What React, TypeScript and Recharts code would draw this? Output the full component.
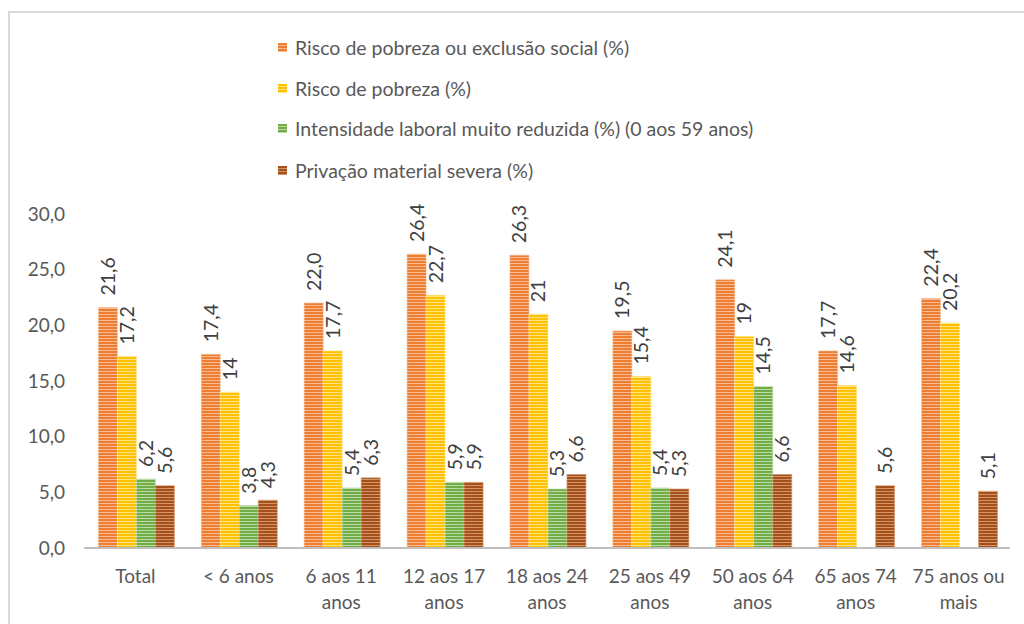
import React from 'react';
import { BarChart, Bar, XAxis, YAxis, LabelList } from 'recharts';

const categories = [
  'Total',
  '< 6 anos',
  '6 aos 11 anos',
  '12 aos 17 anos',
  '18 aos 24 anos',
  '25 aos 49 anos',
  '50 aos 64 anos',
  '65 aos 74 anos',
  '75 anos ou mais',
];

const tickLines: string[][] = [
  ['Total'],
  ['< 6 anos'],
  ['6 aos 11', 'anos'],
  ['12 aos 17', 'anos'],
  ['18 aos 24', 'anos'],
  ['25 aos 49', 'anos'],
  ['50 aos 64', 'anos'],
  ['65 aos 74', 'anos'],
  ['75 anos ou', 'mais'],
];

const seriesNames = [
  'Risco de pobreza ou exclusão social (%)',
  'Risco de pobreza (%)',
  'Intensidade laboral muito reduzida (%) (0 aos 59 anos)',
  'Privação material severa (%)',
];

const riscoExclusao = [21.6, 17.4, 22.0, 26.4, 26.3, 19.5, 24.1, 17.7, 22.4];
const riscoPobreza = [17.2, 14, 17.7, 22.7, 21, 15.4, 19, 14.6, 20.2];
const intensidade: (number | null)[] = [6.2, 3.8, 5.4, 5.9, 5.3, 5.4, 14.5, null, null];
const privacao = [5.6, 4.3, 6.3, 5.9, 6.6, 5.3, 6.6, 5.6, 5.1];

const riscoExclusaoLabels = ['21,6', '17,4', '22,0', '26,4', '26,3', '19,5', '24,1', '17,7', '22,4'];
const riscoPobrezaLabels = ['17,2', '14', '17,7', '22,7', '21', '15,4', '19', '14,6', '20,2'];
const intensidadeLabels = ['6,2', '3,8', '5,4', '5,9', '5,3', '5,4', '14,5', '', ''];
const privacaoLabels = ['5,6', '4,3', '6,3', '5,9', '6,6', '5,3', '6,6', '5,6', '5,1'];

const yTicks = [0, 5, 10, 15, 20, 25, 30];

const seriesColors = ['#ED7D31', '#FFC000', '#70AD47', '#A5501A'];
const seriesLight = ['#F7BC95', '#FFE283', '#BCDAA6', '#D3956A'];

const data = categories.map((c, i) => ({
  name: c,
  s0: riscoExclusao[i],
  s1: riscoPobreza[i],
  s2: intensidade[i],
  s3: privacao[i],
}));

const labelSets = [riscoExclusaoLabels, riscoPobrezaLabels, intensidadeLabels, privacaoLabels];

const FONT = 'Lato, "Open Sans", sans-serif';
const TEXT = '#595959';

const makeLabel = (labels: string[]) => (props: any) => {
  const { x, y, width, index, value } = props;
  if (value === null || value === undefined) return null;
  const txt = labels[index];
  if (!txt) return null;
  const cx = Number(x) + Number(width) / 2;
  const ty = Number(y) - 12;
  return (
    <text
      x={cx}
      y={ty}
      transform={`rotate(-90, ${cx}, ${ty})`}
      textAnchor="start"
      dy="0.36em"
      fill="#404040"
      fontSize={19.5}
      fontFamily={FONT}
    >
      {txt}
    </text>
  );
};

const XTick = (props: any) => {
  const { x, y, index } = props;
  const lines = tickLines[index] || [];
  return (
    <g>
      {lines.map((l, k) => (
        <text
          key={k}
          x={x}
          y={Number(y) + 35 + k * 26}
          textAnchor="middle"
          fill={TEXT}
          fontSize={19}
          fontFamily={FONT}
        >
          {l}
        </text>
      ))}
    </g>
  );
};

const legendCenters = [47, 88, 128, 170];

export default function App() {
  return (
    <div
      style={{
        position: 'fixed',
        left: 0,
        top: 0,
        width: 1024,
        height: 624,
        overflow: 'hidden',
        background: '#fff',
      }}
    >
      <div
        style={{
          position: 'absolute',
          left: 8,
          top: 11,
          width: 1100,
          height: 700,
          border: '2px solid #D9D9D9',
        }}
      />
      <div style={{ position: 'absolute', left: 0, top: 0 }}>
        <BarChart
          width={1024}
          height={624}
          data={data}
          margin={{ top: 214, right: 14, bottom: 0, left: 0 }}
          barCategoryGap="14%"
          barGap={0}
        >
          <defs>
            {seriesColors.map((c, i) => (
              <pattern
                key={i}
                id={`stripe${i}`}
                patternUnits="userSpaceOnUse"
                width={8}
                height={3}
              >
                <rect x={0} y={0} width={8} height={3} fill={c} />
                <rect x={0} y={2} width={8} height={1} fill={seriesLight[i]} />
              </pattern>
            ))}
          </defs>
          <XAxis
            dataKey="name"
            height={76}
            tickLine={false}
            tickSize={0}
            tickMargin={0}
            axisLine={{ stroke: '#BFBFBF', strokeWidth: 2 }}
            tick={<XTick />}
            interval={0}
          />
          <YAxis
            width={84}
            domain={[0, 30]}
            ticks={yTicks}
            axisLine={false}
            tickLine={false}
            tickSize={6}
            tickMargin={13}
            tickFormatter={(v: number) => v.toFixed(1).replace('.', ',')}
            tick={{ fill: TEXT, fontSize: 19, fontFamily: FONT }}
            interval={0}
          />
          {['s0', 's1', 's2', 's3'].map((k, i) => (
            <Bar
              key={k}
              dataKey={k}
              name={seriesNames[i]}
              fill={`url(#stripe${i})`}
              stroke={seriesLight[i]}
              strokeWidth={0.6}
              isAnimationActive={false}
            >
              <LabelList dataKey={k} content={makeLabel(labelSets[i])} />
            </Bar>
          ))}
        </BarChart>
      </div>
      {seriesNames.map((n, i) => (
        <div
          key={n}
          style={{
            position: 'absolute',
            left: 278,
            top: legendCenters[i] - 12,
            height: 24,
            display: 'flex',
            alignItems: 'center',
            fontFamily: FONT,
            fontSize: 19.5,
            color: TEXT,
            whiteSpace: 'nowrap',
          }}
        >
          <svg width={9} height={9} style={{ marginRight: 8 }}>
            <rect width={9} height={9} fill={`url(#lg${i})`} />
            <defs>
              <pattern id={`lg${i}`} patternUnits="userSpaceOnUse" width={9} height={3}>
                <rect width={9} height={3} fill={seriesColors[i]} />
                <rect y={2} width={9} height={1} fill={seriesLight[i]} />
              </pattern>
            </defs>
          </svg>
          <span>{n}</span>
        </div>
      ))}
    </div>
  );
}
